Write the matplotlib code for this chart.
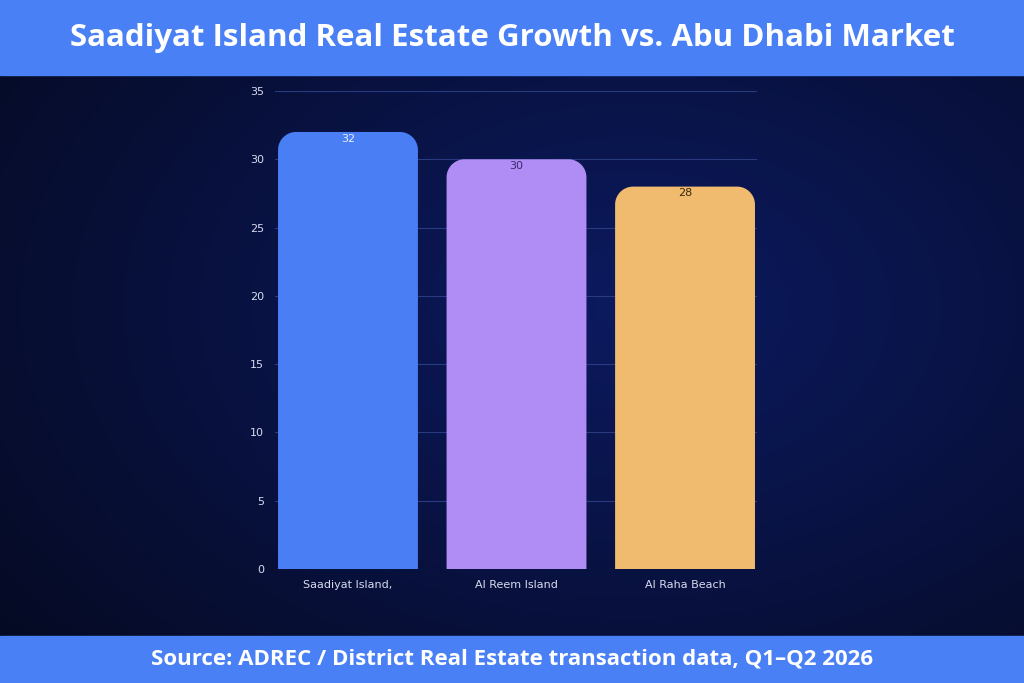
import numpy as np
import matplotlib
matplotlib.use("Agg")
import matplotlib.pyplot as plt
from matplotlib.patches import Polygon, Rectangle

categories = ["Saadiyat Island,", "Al Reem Island", "Al Raha Beach"]
values = [32, 30, 28]
colors = ["#4a7ef5", "#b08cf5", "#f0bb6e"]
label_colors = ["#e8eefc", "#3a2a6a", "#3a2a10"]
yticks = [0, 5, 10, 15, 20, 25, 30, 35]
title = "Saadiyat Island Real Estate Growth vs. Abu Dhabi Market"
source = "Source: ADREC / District Real Estate transaction data, Q1\u2013Q2 2026"

W, H = 1024, 683
fig = plt.figure(figsize=(W/100, H/100), dpi=100)

bg = fig.add_axes([0, 0, 1, 1], zorder=-10)
yy, xx = np.mgrid[0:1:300j, 0:1:450j]
d = np.sqrt(((xx-0.62)/0.8)**2 + ((yy-0.55)/0.8)**2)
t = np.clip(d, 0, 1)[..., None]
inner = np.array([0x0c, 0x1a, 0x60]) / 255
outer = np.array([0x05, 0x0a, 0x22]) / 255
img = inner*(1-t) + outer*t
bg.imshow(img, extent=[0, 1, 0, 1], aspect="auto", origin="lower")
bg.axis("off")

banner = "#4a80f5"
fig.patches.append(Rectangle((0, 1-75/H), 1, 75/H, transform=fig.transFigure, color=banner, zorder=5))
fig.patches.append(Rectangle((0, 0), 1, 47/H, transform=fig.transFigure, color=banner, zorder=5))
fig.text(0.5, 1-38/H, title, ha="center", va="center", color="white", fontsize=22.5, fontweight="bold", family="Open Sans", zorder=6)
fig.text(0.5, 24/H, source, ha="center", va="center", color="white", fontsize=16, fontweight="bold", family="Open Sans", zorder=6)

x0, x1 = 275, 757
y0, y1 = 569, 91
ax = fig.add_axes([x0/W, 1-y0/H, (x1-x0)/W, (y0-y1)/H])
ax.set_facecolor("none")
ax.set_xlim(-0.433, 2.427)
ax.set_ylim(0, 35)
ax.set_yticks(yticks)
ax.set_xticks(range(3))
ax.set_xticklabels(categories)
for s in ax.spines.values():
    s.set_visible(False)
ax.tick_params(colors="#d8dcf0", labelsize=8, length=0, pad=8)
ax.grid(axis="y", color="#2a3a80", lw=0.8)
ax.set_axisbelow(True)

wbar = 0.83
pxx = 168.5
pxy = (y0-y1)/35.0
rx = 18/pxx
ry = 18/pxy
th = np.linspace(0, np.pi/2, 20)
for i, (v, c) in enumerate(zip(values, colors)):
    l, rr = i-wbar/2, i+wbar/2
    pts = [(l, 0), (rr, 0)]
    pts += [(rr-rx+rx*np.cos(a), v-ry+ry*np.sin(a)) for a in th]
    pts += [(l+rx-rx*np.cos(a), v-ry+ry*np.sin(a)) for a in th[::-1]]
    ax.add_patch(Polygon(pts, closed=True, fc=c, ec="none", zorder=2))
    ax.text(i, v-0.5, str(v), ha="center", va="center", fontsize=8, color=label_colors[i], zorder=3)

fig.savefig("out.png", dpi=100)
